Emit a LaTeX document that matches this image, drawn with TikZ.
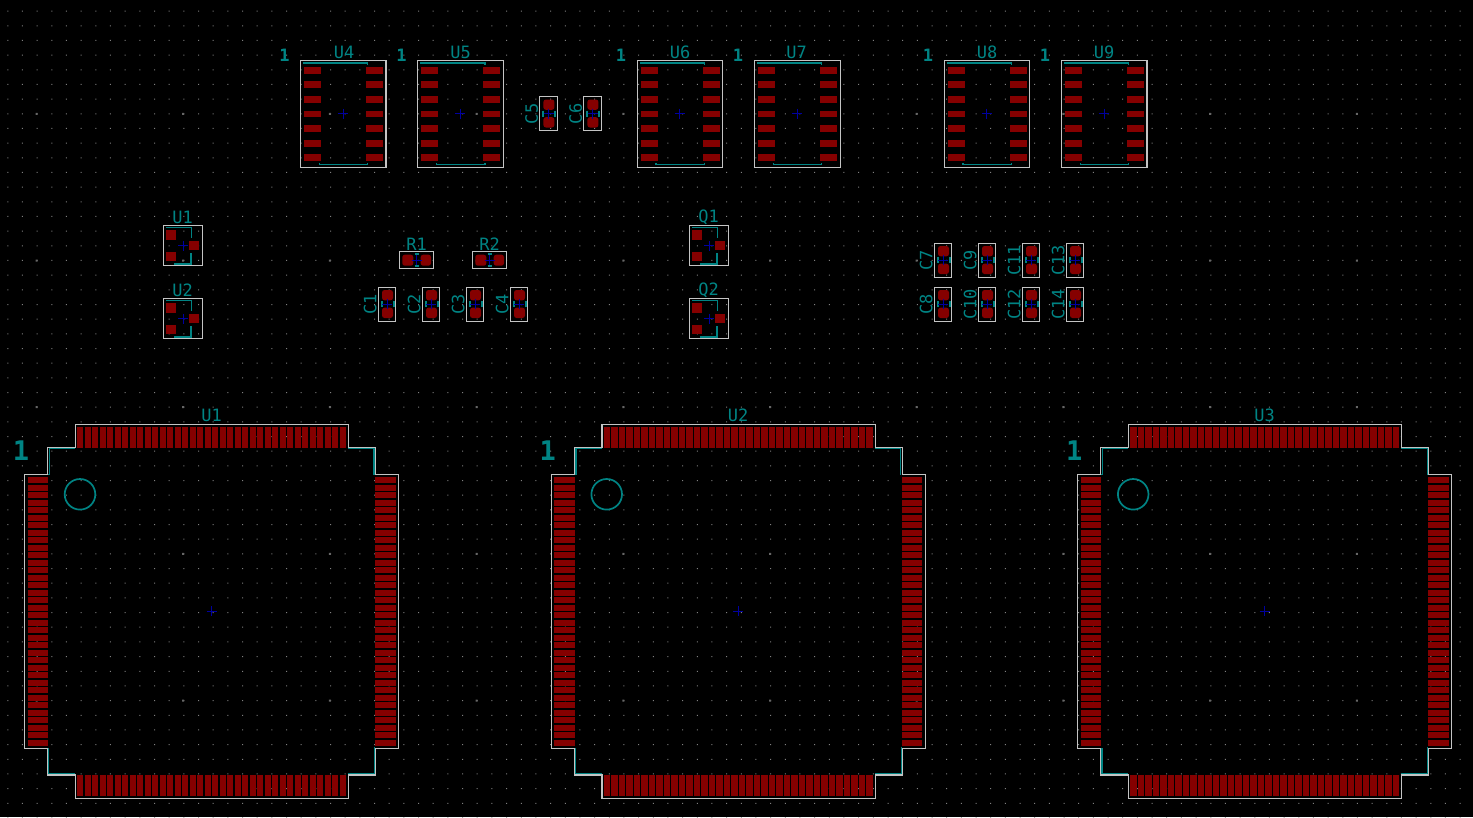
\documentclass[tikz,border=0pt]{standalone}
\usepackage{fontspec}
\setmainfont{DejaVu Sans Mono}
\definecolor{padred}{HTML}{850000}
\definecolor{silk}{HTML}{008484}
\definecolor{court}{HTML}{C4C4C4}
\definecolor{griddot}{HTML}{808080}
\definecolor{crossblue}{HTML}{0000A0}
\tikzset{
  pad/.style={fill=padred,draw=none},
  roundpad/.style={fill=padred,draw=none,rounded corners=2.5pt},
  silkline/.style={draw=silk,line width=1.3pt},
  silkthick/.style={draw=silk,line width=1.8pt},
  courtline/.style={draw=court,line width=1.2pt},
  crossline/.style={draw=crossblue,line width=0.9pt},
  reflabel/.style={text=silk,inner sep=0pt,font=\fontsize{17}{17}\selectfont},
  pinone/.style={text=silk,inner sep=0pt,font=\fontsize{17}{17}\selectfont\bfseries},
  bigone/.style={text=silk,inner sep=0pt,font=\fontsize{27}{27}\selectfont\bfseries},
  circmark/.style={draw=silk,line width=1.7pt},
}
% centre cross
\newcommand{\xcross}[2]{\draw[crossline] (#1-5,#2)--(#1+5,#2) (#1,#2-5)--(#1,#2+5);}
% LQFP-144: #1 x offset, #2 text, #3 id
\newcommand{\lqfp}[3]{%
\begin{scope}[shift={(#1,0)}]
  \foreach \k in {0,...,35}{
    \pgfmathsetmacro{\pp}{77+7.5*\k}
    \pgfmathsetmacro{\qq}{477+7.5*\k}
    \fill[pad] (\pp,427) rectangle (\pp+6.3,448);
    \fill[pad] (\pp,775) rectangle (\pp+6.3,796);
    \fill[pad] (27.5,\qq) rectangle (48,\qq+6.3);
    \fill[pad] (375,\qq) rectangle (395.5,\qq+6.3);
  }
  \draw[silkline] (75,448.5)--(49.3,448.5)--(49.3,474.5)--(26.7,474.5);
  \draw[silkline] (348,448.5)--(374,448.5)--(374,474.5);
  \draw[silkline] (48.8,748)--(48.8,774)--(75,774);
  \draw[silkline] (348,773.5)--(374.5,773.5)--(374.5,747);
  \draw[courtline] (75.3,424.3)--(348.5,424.3)--(348.5,447.3)--(375.5,447.3)--(375.5,474.3)--(398.5,474.3)--(398.5,748.3)--(375.5,748.3)--(375.5,775)--(348.5,775)--(348.5,798.3)--(75.3,798.3)--(75.3,775)--(47.5,775)--(47.5,748.3)--(24.5,748.3)--(24.5,474.3)--(47.5,474.3)--(47.5,447.3)--(75.3,447.3)--cycle;
  \draw[circmark] (80,494.3) circle (15.3);
  \xcross{211.5}{611}
  \node[reflabel] (ref#3) at (211.5,415) {#2};
  \node[bigone] (one#3) at (21,451) {1};
\end{scope}}
% SOIC-14: #1 x offset, #2 text, #3 label x, #4 pin-one x
\newcommand{\soic}[4]{%
\begin{scope}[shift={(#1,0)}]
  \foreach \yy/\hh in {67/7,81/7,96/7,111/6,125/7,140/7,154/7}{
    \fill[pad] (303.7,\yy) rectangle (321,\yy+\hh);
    \fill[pad] (365.7,\yy) rectangle (383,\yy+\hh);
  }
  \draw[silkline] (303,63)--(367.7,63)--(367.7,64.8);
  \draw[silkline] (319.3,163)--(319.3,164.7)--(367.7,164.7)--(367.7,163);
  \draw[courtline] (300.3,60.3) rectangle (386,167.7);
  \xcross{343}{113.7}
\end{scope}
\node[reflabel] (ref#2) at (#3,52) {#2};
\node[pinone] (one#2) at (#4,55) {1};}
% SOT-23: #1 dx, #2 dy, #3 text
\newcommand{\sot}[3]{%
\begin{scope}[shift={(#1,#2)}]
  \fill[pad] (166,230) rectangle (176,239.5);
  \fill[pad] (166,252) rectangle (176,261);
  \fill[pad] (189,241) rectangle (199,250);
  \draw[silkline] (166,227.3)--(191.3,227.3)--(191.3,238.3);
  \draw[silkthick] (174,264)--(191.3,264)--(191.3,253.3);
  \draw[courtline] (163.3,225.3) rectangle (202.7,265.3);
  \xcross{183}{245.5}
  \node[reflabel] (ref#3) at (182.5,217) {#3};
\end{scope}}
% Cap: #1 outer left x, #2 outer top y, #3 text
\newcommand{\capc}[3]{%
\begin{scope}[shift={(#1,#2)}]
  \fill[roundpad] (3.7,2.7) rectangle (14.7,13);
  \fill[roundpad] (3.7,20.4) rectangle (14.7,30.7);
  \draw[silkthick] (3.4,13.7)--(3.4,20) (15.4,13.7)--(15.4,20);
  \draw[courtline] (0,0) rectangle (17.4,34);
  \xcross{8.9}{17}
  \node[reflabel,rotate=90] (ref#3) at (-8,17) {#3};
\end{scope}}
% Resistor: #1 dx, #2 text
\newcommand{\resr}[2]{%
\begin{scope}[shift={(#1,0)}]
  \fill[roundpad] (402.3,254.7) rectangle (413.3,265.7);
  \fill[roundpad] (420.7,254.7) rectangle (431,265.7);
  \draw[silkline] (414.5,254)--(418.5,254) (414.5,266)--(418.5,266);
  \draw[courtline] (399.3,251.3) rectangle (433.7,268.7);
  \xcross{416.5}{260}
  \node[reflabel] (ref#2) at (416.5,244) {#2};
\end{scope}}
\begin{document}
\begin{tikzpicture}[x=1pt,y=-1pt]
\useasboundingbox (0,0) rectangle (1473,817);
\fill[black] (0,0) rectangle (1473,817);
% grid
\fill[griddot] \foreach \i in {0,...,100}{\foreach \j in {0,...,55}{
   ({7.3+14.67*\i},{10.6+14.67*\j}) rectangle ++(1,1)}};
\fill[griddot!120!white] \foreach \i in {0,...,9}{\foreach \j in {0,...,4}{
   ({36+146.7*\i-0.5},{113.3+146.7*\j-0.5}) rectangle ++(2,2)}};
% SOIC row
\soic{0}{U4}{344}{284.5}
\soic{117.3}{U5}{460.5}{401.5}
\soic{336.8}{U6}{680}{621}
\soic{454.1}{U7}{796.5}{738}
\soic{643.8}{U8}{987}{928}
\soic{761}{U9}{1104}{1045}
% SOT
\sot{0}{0}{U1}
\sot{0}{73}{U2}
\sot{526}{0}{Q1}
\sot{526}{73}{Q2}
% resistors
\resr{0}{R1}
\resr{73}{R2}
% caps
\capc{378.3}{287.3}{C1}
\capc{422.3}{287.3}{C2}
\capc{466.3}{287.3}{C3}
\capc{510.3}{287.3}{C4}
\capc{539.7}{96.8}{C5}
\capc{583.7}{96.8}{C6}
\capc{934.3}{243.3}{C7}
\capc{934.3}{287.3}{C8}
\capc{978.3}{243.3}{C9}
\capc{978.3}{287.3}{C10}
\capc{1022.3}{243.3}{C11}
\capc{1022.3}{287.3}{C12}
\capc{1066.3}{243.3}{C13}
\capc{1066.3}{287.3}{C14}
% LQFP
\lqfp{0}{U1}{A}
\lqfp{526.7}{U2}{B}
\lqfp{1053.2}{U3}{C}
\end{tikzpicture}
\end{document}
